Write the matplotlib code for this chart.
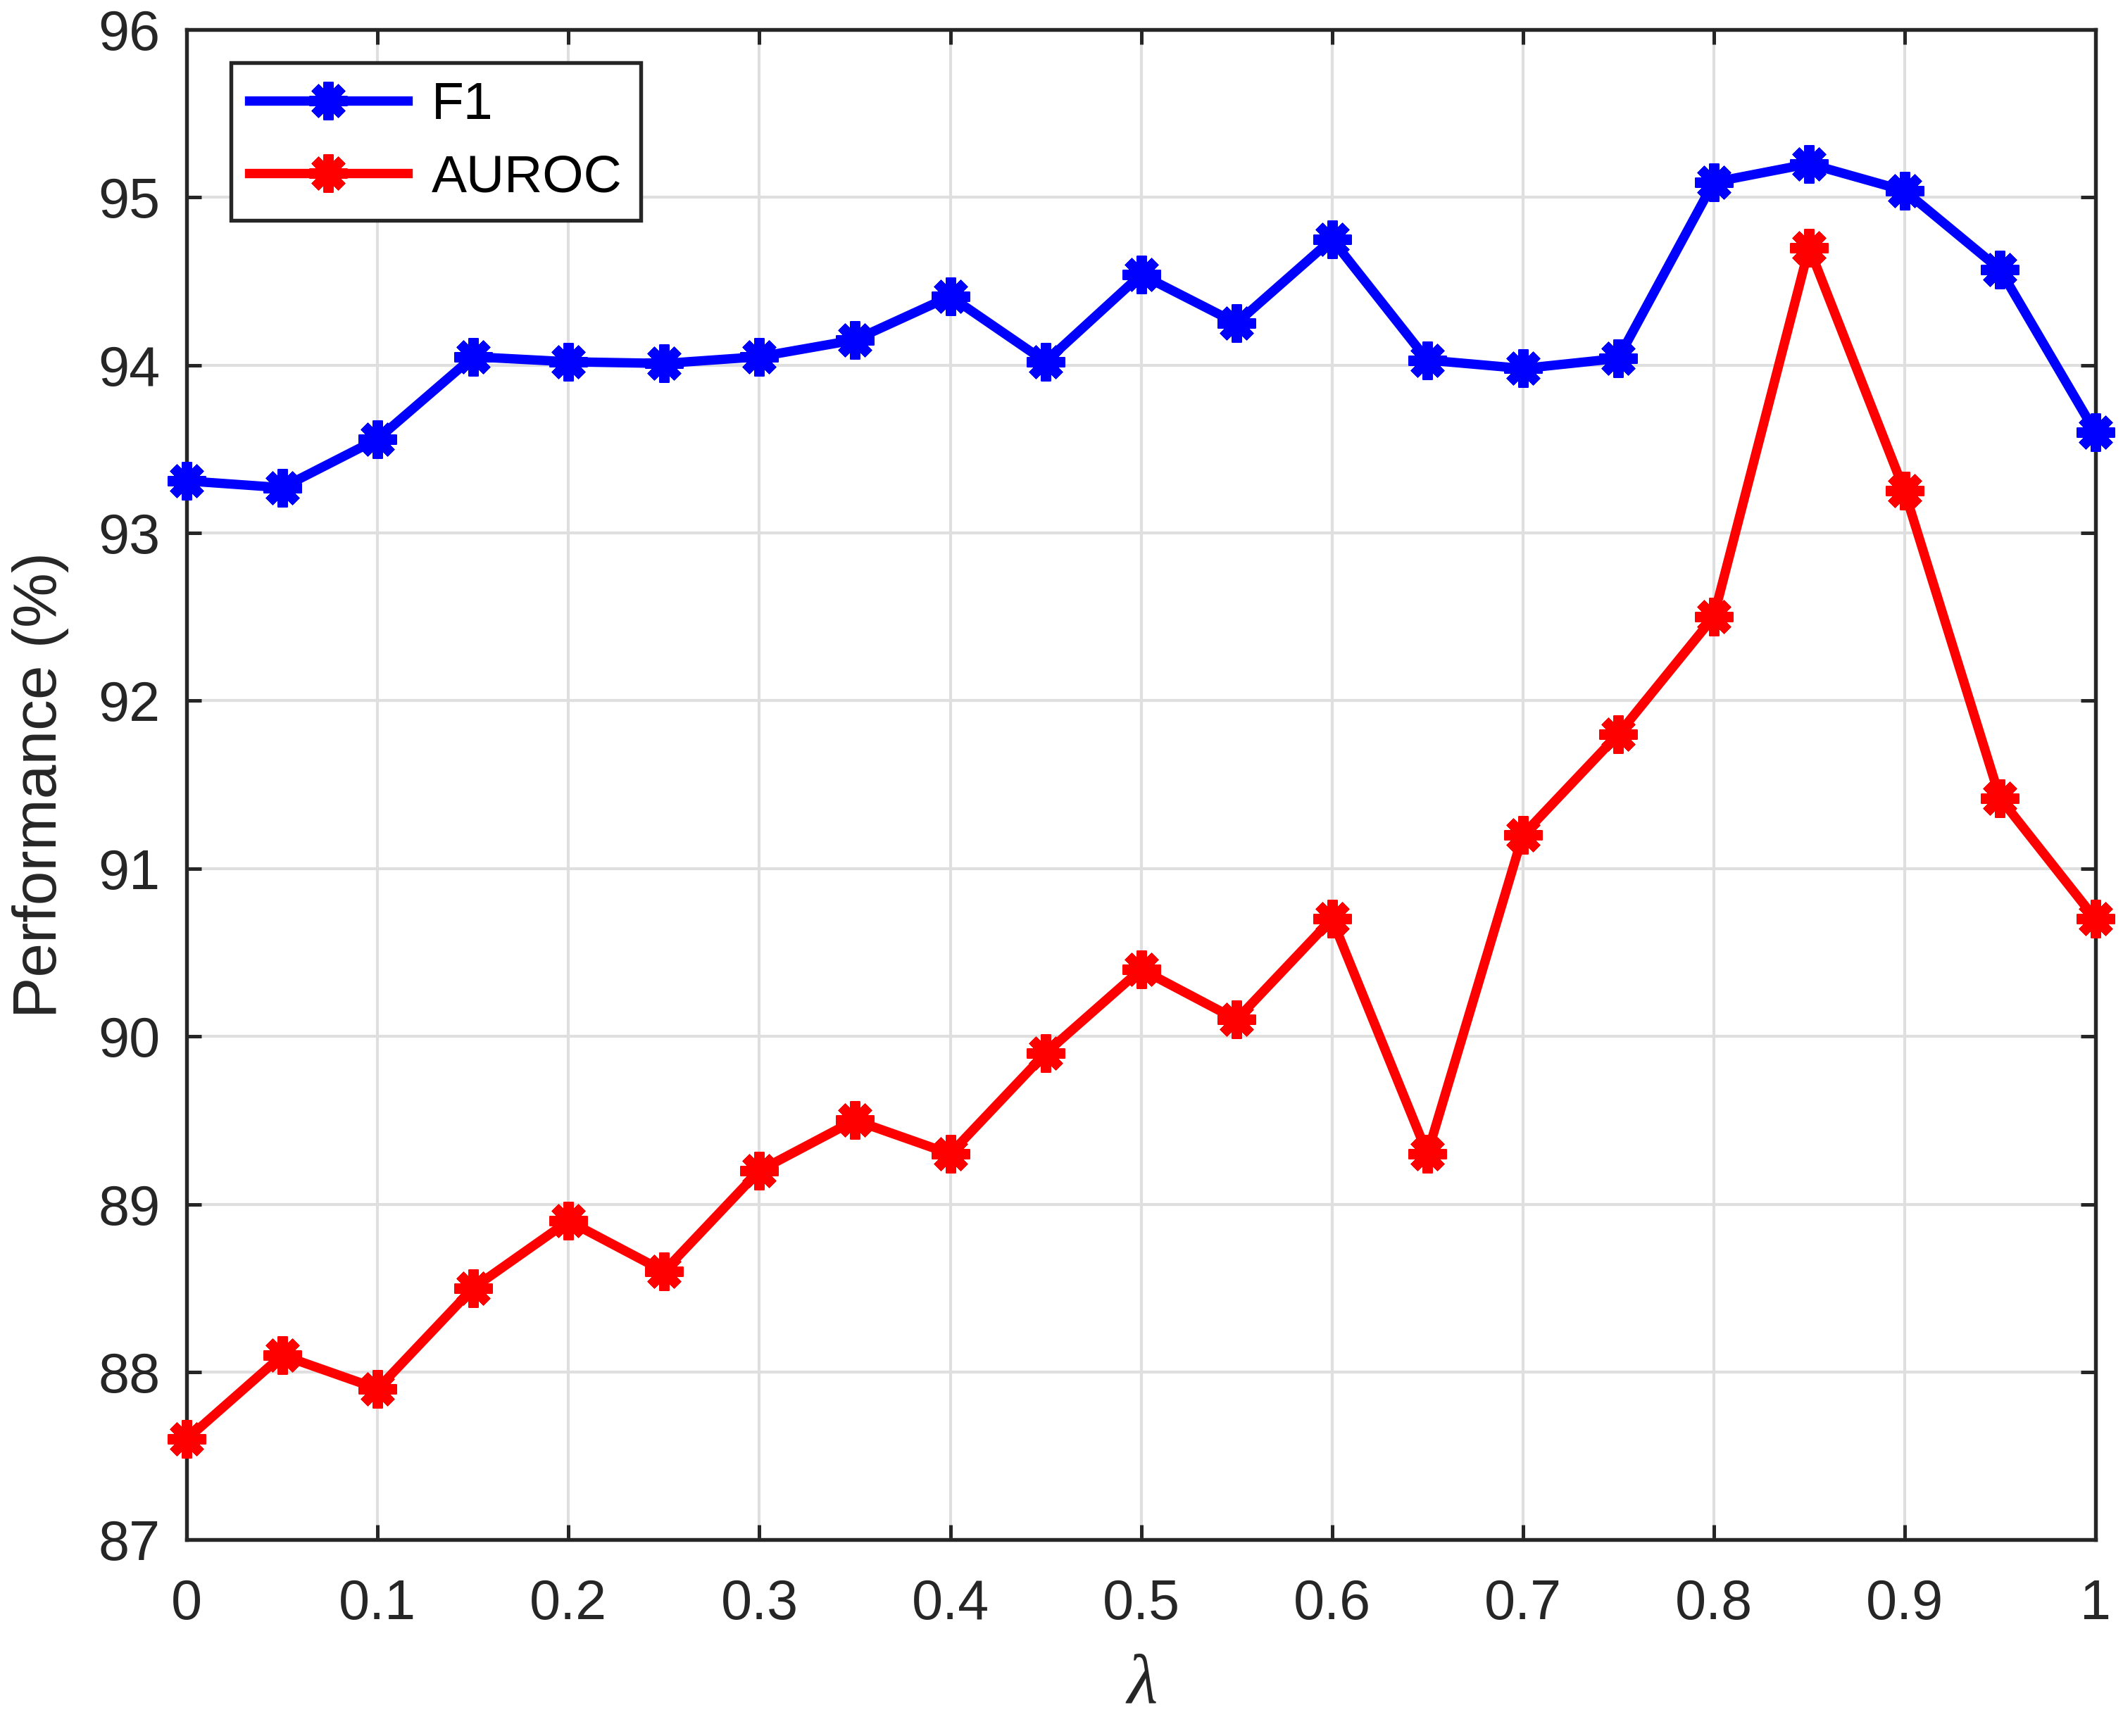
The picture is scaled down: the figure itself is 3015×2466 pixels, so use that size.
## Recreate the lambda sensitivity plot (MATLAB style)
import matplotlib
matplotlib.use("Agg")
import matplotlib.pyplot as plt
import numpy as np

lam = [0.0, 0.05, 0.1, 0.15, 0.2, 0.25, 0.3, 0.35, 0.4, 0.45, 0.5,
       0.55, 0.6, 0.65, 0.7, 0.75, 0.8, 0.85, 0.9, 0.95, 1.0]
f1 = [93.31, 93.27, 93.56, 94.05, 94.02, 94.01, 94.05, 94.15, 94.41, 94.02, 94.54,
      94.25, 94.75, 94.03, 93.98, 94.04, 95.09, 95.20, 95.04, 94.57, 93.60]
auroc = [87.6, 88.1, 87.9, 88.5, 88.9, 88.6, 89.2, 89.5, 89.3, 89.9, 90.4,
         90.1, 90.7, 89.3, 91.2, 91.8, 92.5, 94.7, 93.25, 91.42, 90.7]
xtick_vals = [0, 0.1, 0.2, 0.3, 0.4, 0.5, 0.6, 0.7, 0.8, 0.9, 1]
xtick_labels = ["0", "0.1", "0.2", "0.3", "0.4", "0.5", "0.6", "0.7", "0.8", "0.9", "1"]
ytick_vals = list(range(87, 97))

plt.rcParams["font.family"] = ["Liberation Sans", "DejaVu Sans"]
plt.rcParams["mathtext.fontset"] = "custom"
plt.rcParams["mathtext.it"] = "Liberation Serif:italic"

fig = plt.figure(figsize=(10.05, 8.22), dpi=300)
ax = fig.add_axes([0.088, 0.113, 0.899, 0.870])

axcol = "#262626"
star = (8, 2, 0)
ax.plot(lam, f1, color="blue", lw=3.2, marker=star, ms=13, mew=3.4, label="F1",
        zorder=3, clip_on=False)
ax.plot(lam, auroc, color="red", lw=3.2, marker=star, ms=13, mew=3.4, label="AUROC",
        zorder=3, clip_on=False)

ax.set_xlim(0, 1)
ax.set_ylim(87, 96)
ax.set_xticks(xtick_vals)
ax.set_xticklabels(xtick_labels)
ax.set_yticks(ytick_vals)
ax.grid(True, color="#dfdfdf", lw=1.0)
ax.set_axisbelow(True)
ax.tick_params(direction="in", length=5, width=1.2, colors=axcol, labelsize=19,
               top=True, right=True)
ax.tick_params(axis="x", pad=13)
ax.tick_params(axis="y", pad=9)
for s in ax.spines.values():
    s.set_color(axcol)
    s.set_linewidth(1.3)

ax.set_xlabel(r"$\lambda$", fontsize=24, color=axcol, labelpad=7)
ax.set_ylabel("Performance (%)", fontsize=21, color=axcol, labelpad=10)

leg = ax.legend(loc="upper left", bbox_to_anchor=(0.023, 0.978), fontsize=18,
                fancybox=False, framealpha=1, edgecolor=axcol, borderpad=0.35,
                handlelength=3.0, handletextpad=0.45, labelspacing=0.45,
                borderaxespad=0)
leg.get_frame().set_linewidth(1.3)

fig.savefig("out.png", dpi=300)
